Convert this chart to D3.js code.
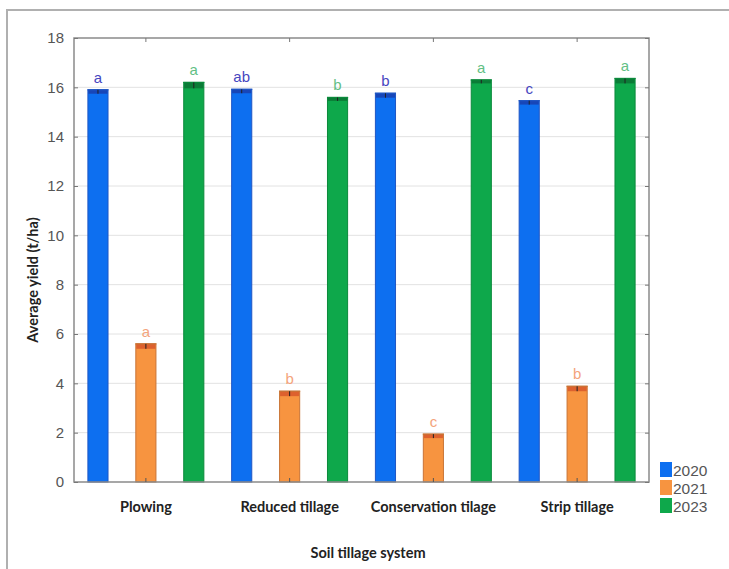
<!DOCTYPE html>
<html>
<head>
<meta charset="utf-8">
<script src="https://cdn.jsdelivr.net/npm/d3@7"></script>
<style>
  body { margin: 0; background: #fff; }
  svg { display: block; }
</style>
</head>
<body>
<svg id="chart" width="729" height="569"></svg>
<script>
// chart data
const systems = ['Plowing', 'Reduced tillage', 'Conservation tilage', 'Strip tillage'];
const years = ['2020', '2021', '2023'];
const yield2020 = [15.82, 15.84, 15.67, 15.38];
const yield2021 = [5.50, 3.58, 1.86, 3.78];
const yield2023 = [16.08, 15.52, 16.23, 16.26];
const err2020 = [0.08, 0.08, 0.09, 0.08];
const err2021 = [0.10, 0.10, 0.08, 0.10];
const err2023 = [0.12, 0.07, 0.07, 0.10];
const letters2020 = ['a', 'ab', 'b', 'c'];
const letters2021 = ['a', 'b', 'c', 'b'];
const letters2023 = ['a', 'b', 'a', 'a'];
const yTicks = [0, 2, 4, 6, 8, 10, 12, 14, 16, 18];

const seriesValues = [yield2020, yield2021, yield2023];
const seriesErr = [err2020, err2021, err2023];
const seriesLetters = [letters2020, letters2021, letters2023];

// colours per year: fill, outline, error band, letter
const fills = ['#0d6ff0', '#f79440', '#0ea84b'];
const outlines = ['#1f56c4', '#c97436', '#0b8a3c'];
const errFills = ['#1a3fae', '#d8582c', '#0a7434'];
const letterColors = ['#4646c0', '#f4a47c', '#63bf85'];

const svg = d3.select('#chart');

// outer frame of the figure
svg.append('rect')
  .attr('x', 7).attr('y', 10)
  .attr('width', 760).attr('height', 600)
  .attr('fill', 'none')
  .attr('stroke', '#b0b0b0')
  .attr('stroke-width', 2);

const plot = { left: 74, top: 38, right: 649, bottom: 482 };

const x0 = d3.scaleBand()
  .domain(systems)
  .range([plot.left, plot.right]);

const x1 = d3.scaleBand()
  .domain(years)
  .range([0, x0.bandwidth()])
  .paddingInner(0.58)
  .paddingOuter(0.29);

const y = d3.scaleLinear()
  .domain([0, 18])
  .range([plot.bottom, plot.top]);

// gridlines
svg.append('g')
  .selectAll('line')
  .data(yTicks.slice(1, -1))
  .enter().append('line')
  .attr('x1', plot.left).attr('x2', plot.right)
  .attr('y1', d => y(d)).attr('y2', d => y(d))
  .attr('stroke', '#e2e2e2')
  .attr('stroke-width', 1);

// bars
const rows = [];
systems.forEach((s, i) => {
  years.forEach((yr, j) => {
    rows.push({
      system: s, year: yr, j: j,
      value: seriesValues[j][i],
      err: seriesErr[j][i],
      letter: seriesLetters[j][i]
    });
  });
});

const barG = svg.append('g');

barG.selectAll('.bar')
  .data(rows)
  .enter().append('rect')
  .attr('class', 'bar')
  .attr('x', d => x0(d.system) + x1(d.year))
  .attr('y', d => y(d.value + d.err))
  .attr('width', x1.bandwidth())
  .attr('height', d => y(0) - y(d.value + d.err))
  .attr('fill', d => fills[d.j])
  .attr('stroke', d => outlines[d.j])
  .attr('stroke-width', 1);

// error band at the top of each bar
barG.selectAll('.err')
  .data(rows)
  .enter().append('rect')
  .attr('class', 'err')
  .attr('x', d => x0(d.system) + x1(d.year) + 0.5)
  .attr('y', d => y(d.value + d.err))
  .attr('width', x1.bandwidth() - 1)
  .attr('height', d => y(d.value - d.err) - y(d.value + d.err))
  .attr('fill', d => errFills[d.j])
  .attr('opacity', 0.85);

// error caps
barG.selectAll('.cap')
  .data(rows)
  .enter().append('line')
  .attr('class', 'cap')
  .attr('x1', d => x0(d.system) + x1(d.year) - 0.5)
  .attr('x2', d => x0(d.system) + x1(d.year) + x1.bandwidth() + 0.5)
  .attr('y1', d => y(d.value + d.err))
  .attr('y2', d => y(d.value + d.err))
  .attr('stroke', d => outlines[d.j])
  .attr('stroke-width', 1.2);

barG.selectAll('.whisk')
  .data(rows)
  .enter().append('line')
  .attr('class', 'whisk')
  .attr('x1', d => x0(d.system) + x1(d.year) + x1.bandwidth() / 2)
  .attr('x2', d => x0(d.system) + x1(d.year) + x1.bandwidth() / 2)
  .attr('y1', d => y(d.value + d.err))
  .attr('y2', d => y(d.value - d.err))
  .attr('stroke', '#222')
  .attr('stroke-width', 1);

// significance letters
barG.selectAll('.letter')
  .data(rows)
  .enter().append('text')
  .attr('class', 'letter')
  .attr('x', d => x0(d.system) + x1(d.year) + x1.bandwidth() / 2)
  .attr('y', d => y(d.value + d.err) - 7)
  .attr('text-anchor', 'middle')
  .style('font-family', '"Liberation Sans", Arial, sans-serif')
  .style('font-size', '15px')
  .attr('fill', d => letterColors[d.j])
  .text(d => d.letter);

// plot frame
svg.append('rect')
  .attr('x', plot.left).attr('y', plot.top)
  .attr('width', plot.right - plot.left)
  .attr('height', plot.bottom - plot.top)
  .attr('fill', 'none')
  .attr('stroke', '#8a8a8a')
  .attr('stroke-width', 1.5);

// y axis (ticks inward on both sides)
const yAxis = d3.axisLeft(y).tickValues(yTicks).tickSize(-4).tickPadding(10);
const yG = svg.append('g')
  .attr('transform', `translate(${plot.left},0)`)
  .call(yAxis);
yG.select('.domain').remove();
yG.selectAll('line').attr('stroke', '#777');
yG.selectAll('text')
  .style('font-family', '"Liberation Sans", Arial, sans-serif')
  .style('font-size', '15px')
  .attr('fill', '#555');

const yR = svg.append('g')
  .attr('transform', `translate(${plot.right},0)`)
  .call(d3.axisRight(y).tickValues(yTicks).tickSize(-4).tickFormat(''));
yR.select('.domain').remove();
yR.selectAll('line').attr('stroke', '#777');

// x axis
const xAxis = d3.axisBottom(x0).tickSize(-4).tickPadding(20);
const xG = svg.append('g')
  .attr('transform', `translate(0,${plot.bottom})`)
  .call(xAxis);
xG.select('.domain').remove();
xG.selectAll('line').attr('stroke', '#555');
xG.selectAll('text')
  .style('font-family', 'Lato, "Open Sans", sans-serif')
  .style('font-weight', 'bold')
  .style('font-size', '14.5px')
  .attr('fill', '#222');

const xT = svg.append('g')
  .attr('transform', `translate(0,${plot.top})`)
  .call(d3.axisTop(x0).tickSize(-4).tickFormat(''));
xT.select('.domain').remove();
xT.selectAll('line').attr('stroke', '#777');

// axis titles
svg.append('text')
  .attr('x', 368)
  .attr('y', 558)
  .attr('text-anchor', 'middle')
  .style('font-family', 'Lato, "Open Sans", sans-serif')
  .style('font-weight', 'bold')
  .style('font-size', '14.5px')
  .attr('fill', '#222')
  .text('Soil tillage system');

svg.append('text')
  .attr('transform', 'translate(38,280) rotate(-90)')
  .attr('text-anchor', 'middle')
  .style('font-family', 'Lato, "Open Sans", sans-serif')
  .style('font-weight', 'bold')
  .style('font-size', '14.5px')
  .attr('fill', '#222')
  .text('Average yield (t/ha)');

// legend
const legend = svg.append('g').attr('transform', 'translate(660,462)');
years.forEach((yr, i) => {
  legend.append('rect')
    .attr('x', 0)
    .attr('y', i * 18)
    .attr('width', 12)
    .attr('height', 15)
    .attr('fill', fills[i]);
  legend.append('text')
    .attr('x', 13)
    .attr('y', i * 18 + 13.5)
    .text(yr)
    .style('font-family', '"Liberation Sans", Arial, sans-serif')
    .style('font-size', '15.5px')
    .attr('fill', '#555');
});
</script>
</body>
</html>
